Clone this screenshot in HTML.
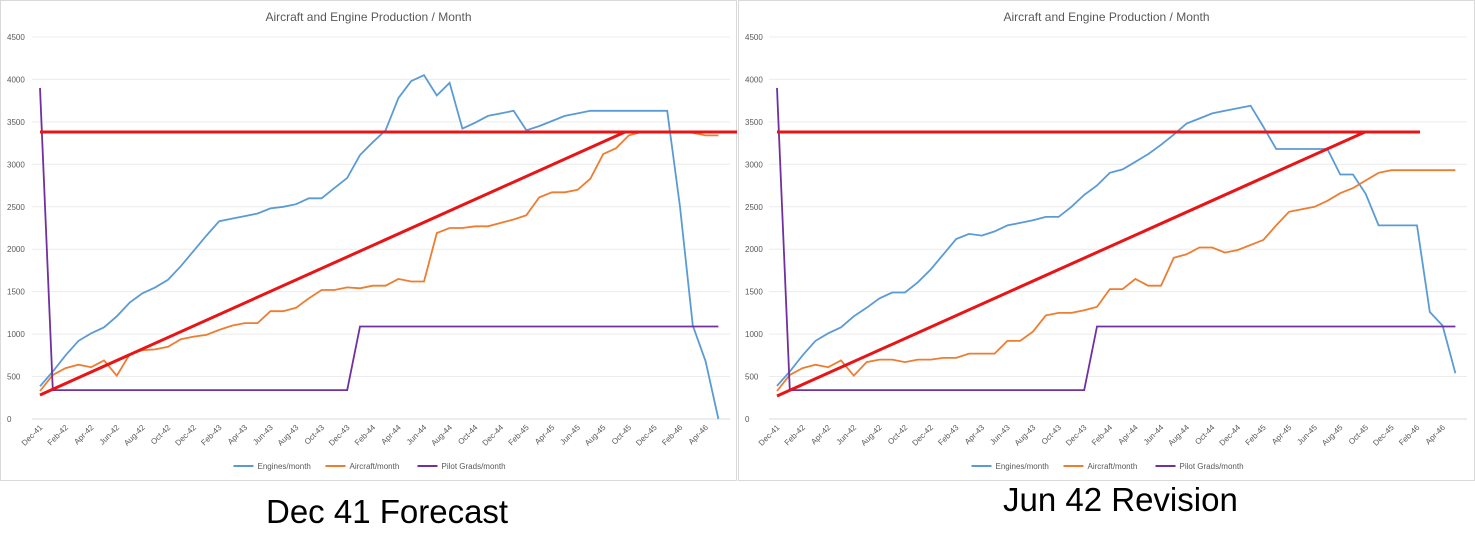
<!DOCTYPE html>
<html><head><meta charset="utf-8"><style>
body{margin:0;background:#fff;width:1475px;height:557px;overflow:hidden;font-family:"Liberation Sans",sans-serif}
.cap{position:absolute;font-size:33px;color:#000;font-family:"Liberation Sans",sans-serif}
</style></head><body>
<svg id="s" width="1475" height="557" style="position:absolute;left:0;top:0"></svg>
<div class="cap" style="left:266px;top:493px">Dec 41 Forecast</div>
<div class="cap" style="left:1003px;top:481px">Jun 42 Revision</div>
<script>
const labels=["Dec-41","Feb-42","Apr-42","Jun-42","Aug-42","Oct-42","Dec-42","Feb-43","Apr-43","Jun-43","Aug-43","Oct-43","Dec-43","Feb-44","Apr-44","Jun-44","Aug-44","Oct-44","Dec-44","Feb-45","Apr-45","Jun-45","Aug-45","Oct-45","Dec-45","Feb-46","Apr-46"];
const L={x0:40,box:[0,0,737,481],
eng:[385,560,750,920,1010,1080,1210,1370,1480,1550,1640,1800,1980,2160,2330,2360,2390,2420,2480,2500,2530,2600,2600,2720,2840,3110,3260,3400,3780,3980,4050,3810,3960,3420,3490,3570,3600,3630,3400,3450,3510,3570,3600,3630,3630,3630,3630,3630,3630,3630,2500,1100,680,0],
air:[330,520,600,640,610,690,510,760,810,820,850,940,970,990,1050,1100,1130,1130,1270,1270,1310,1420,1520,1520,1550,1540,1570,1570,1650,1620,1620,2190,2250,2250,2270,2270,2310,2350,2400,2610,2670,2670,2700,2830,3120,3190,3340,3380,3380,3380,3380,3370,3340,3340],
red:[[40,132,737,132],[40,395,625,132]]};
const R={x0:777,box:[738,0,1475,481],
eng:[390,560,750,920,1010,1080,1210,1310,1420,1490,1490,1610,1760,1940,2120,2180,2160,2210,2280,2310,2340,2380,2380,2500,2640,2750,2900,2940,3030,3120,3230,3350,3480,3540,3600,3630,3660,3690,3440,3180,3180,3180,3180,3180,2880,2880,2650,2280,2280,2280,2280,1260,1100,540],
air:[330,520,600,640,610,690,510,670,700,700,670,700,700,720,720,770,770,770,920,920,1030,1220,1250,1250,1280,1320,1530,1530,1650,1570,1570,1900,1940,2020,2020,1960,1990,2050,2110,2280,2440,2470,2500,2570,2660,2720,2810,2900,2930,2930,2930,2930,2930,2930],
red:[[777,132,1420,132],[777,396,1365,132]]};
let h='';const dx=12.8,Y=v=>419-v*0.0849;
for(const c of [L,R]){
 const [bx,by,bx2,by2]=c.box;
 h+=`<rect x="${bx+0.5}" y="${by+0.5}" width="${bx2-bx-1}" height="${by2-by-1}" fill="#fff" stroke="#d9d9d9"/>`;
 const cx=(bx+bx2)/2;
 h+=`<text x="${cx}" y="21" font-size="12" fill="#595959" text-anchor="middle">Aircraft and Engine Production / Month</text>`;
 for(let k=0;k<=9;k++){const v=k*500,y=Y(v);
  h+=`<line x1="${c.x0-8}" x2="${c.x0+690}" y1="${y}" y2="${y}" stroke="${k?'#ececec':'#d9d9d9'}"/>`;
  h+=`<text x="${bx+7}" y="${y+3}" font-size="8" fill="#595959">${v}</text>`;}
 labels.forEach((t,i)=>{const x=c.x0+i*2*dx+3;h+=`<text transform="translate(${x},428) rotate(-45)" font-size="8" fill="#595959" text-anchor="end">${t}</text>`;});
 const pl=(a,col)=>`<polyline fill="none" stroke="${col}" stroke-width="1.8" points="${a.map((v,i)=>(c.x0+i*dx).toFixed(1)+','+Y(v).toFixed(1)).join(' ')}"/>`;
 h+=pl(c.eng,'#5b9bd5')+pl(c.air,'#ed7d31');
 let p=[3900,340];for(let i=2;i<54;i++)p.push(i<25?340:1090);
 h+=pl(p,'#7030a0');
 for(const r of c.red)h+=`<line x1="${r[0]}" y1="${r[1]}" x2="${r[2]}" y2="${r[3]}" stroke="#e81416" stroke-width="3"/>`;
 const lx=cx-135;
 [['Engines/month','#5b9bd5',0],['Aircraft/month','#ed7d31',92],['Pilot Grads/month','#7030a0',184]].forEach(([t,col,o])=>{
  h+=`<line x1="${lx+o}" x2="${lx+o+20}" y1="466" y2="466" stroke="${col}" stroke-width="2"/><text x="${lx+o+24}" y="469" font-size="8" fill="#595959">${t}</text>`;});
}
document.getElementById('s').innerHTML=h;
</script>
</body></html>
